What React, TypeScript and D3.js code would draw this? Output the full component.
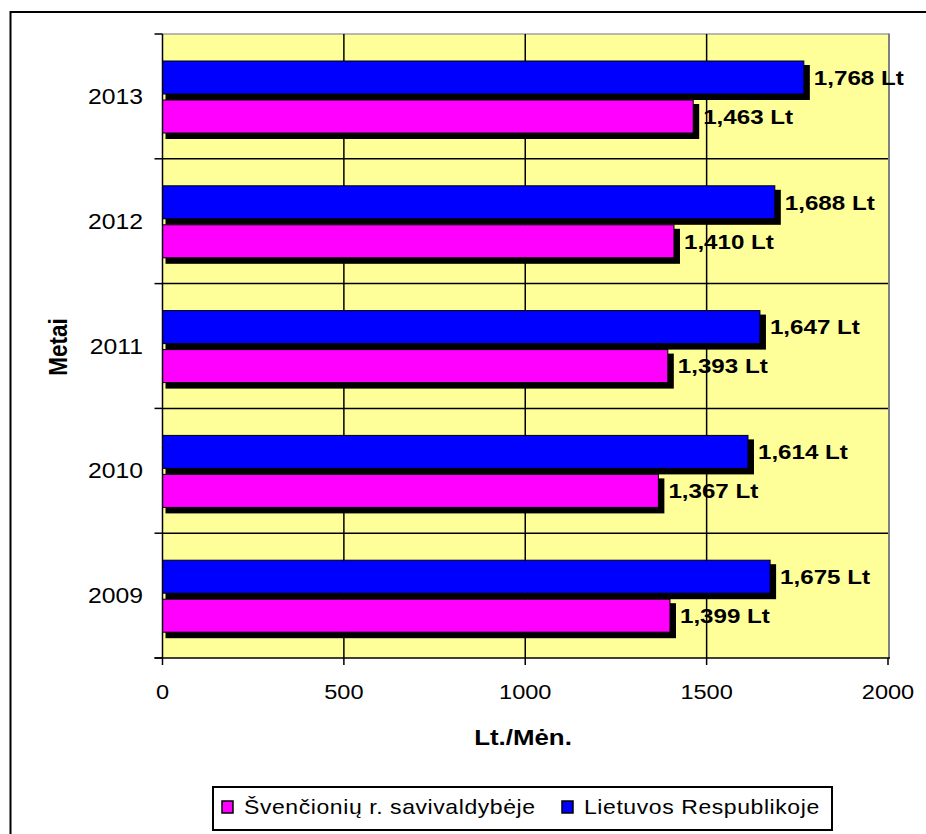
import React from "react";
import * as d3 from "d3";

const years = ["2009", "2010", "2011", "2012", "2013"];
const svenValues = [1399, 1367, 1393, 1410, 1463];
const ltValues = [1675, 1614, 1647, 1688, 1768];
const seriesNames = ["Švenčionių r. savivaldybėje", "Lietuvos Respublikoje"];
const seriesColors = ["#FF00FF", "#0000FF"];
const xTicks = [0, 500, 1000, 1500, 2000];
const xTitle = "Lt./Mėn.";
const yTitle = "Metai";

const W = 926;
const H = 834;
const plot = { left: 162.5, right: 888, top: 34, bottom: 658 };
const SX = 1.15;
const FONT = "'Liberation Sans', Arial, sans-serif";

function T(props: any) {
  const { x, y, rotate, size, bold, anchor, children, spacing } = props;
  const tf = `translate(${x},${y}) scale(${SX},1)` + (rotate ? ` rotate(${rotate})` : "");
  return (
    <text
      transform={tf}
      fontFamily={FONT}
      fontSize={size}
      fontWeight={bold ? "bold" : "normal"}
      textAnchor={anchor || "start"}
      dy="0.35em"
      letterSpacing={spacing || 0}
      fill="#000"
    >
      {children}
    </text>
  );
}

export default function App() {
  const x = d3.scaleLinear().domain([0, 2000]).range([plot.left, plot.right]);
  const yBand = d3
    .scaleBand<string>()
    .domain(years.slice().reverse())
    .range([plot.top, plot.bottom]);
  const fmt = d3.format(",");
  const bw = yBand.bandwidth();
  const boundaries = d3.range(years.length + 1).map((i) => plot.top + i * bw);

  const rows = years.map((yr, i) => {
    const y0 = (yBand(yr) as number) + 27;
    const inner = d3
      .scaleBand<string>()
      .domain(["lt", "sven"])
      .range([y0, y0 + 72])
      .paddingInner(6 / 39);
    return [
      { key: "lt", v: ltValues[i], color: seriesColors[1], y: inner("lt") as number, h: inner.bandwidth() },
      { key: "sven", v: svenValues[i], color: seriesColors[0], y: inner("sven") as number, h: inner.bandwidth() },
    ].map((b) => ({ ...b, yr }));
  });
  const bars = rows.flat();

  return (
    <svg width={W} height={H} style={{ position: "absolute", left: 0, top: 0, background: "#fff" }}>
      {/* outer border */}
      <rect x={10.5} y={12} width={1000} height={1000} fill="#fff" stroke="#000" strokeWidth={2} />

      {/* plot background */}
      <rect x={plot.left} y={plot.top} width={plot.right - plot.left} height={plot.bottom - plot.top} fill="#FFFF99" />
      <line x1={plot.left} x2={plot.right + 1} y1={plot.top} y2={plot.top} stroke="#A0A0A0" strokeWidth={1.5} />
      <line x1={plot.right + 1} x2={plot.right + 1} y1={plot.top - 0.5} y2={plot.bottom} stroke="#808080" strokeWidth={2} />

      {/* value labels (behind gridlines) */}
      {bars.map((b) => (
        <T key={"l" + b.yr + b.key} x={x(b.v) + 10} y={b.y + b.h / 2} size={21} bold>
          {fmt(b.v) + " Lt"}
        </T>
      ))}

      {/* gridlines */}
      {xTicks.slice(1, -1).map((t) => (
        <line key={"g" + t} x1={x(t)} x2={x(t)} y1={plot.top} y2={plot.bottom} stroke="#000" strokeWidth={1.5} />
      ))}
      {boundaries.slice(1, -1).map((yy, i) => (
        <line key={"h" + i} x1={plot.left} x2={plot.right} y1={yy} y2={yy} stroke="#000" strokeWidth={1.5} />
      ))}

      {/* shadows */}
      {bars.map((b) => (
        <rect
          key={"s" + b.yr + b.key}
          x={plot.left + 3}
          y={b.y + 4}
          width={x(b.v) - plot.left + 3}
          height={b.h + 2}
          fill="#000"
        />
      ))}
      {/* bars */}
      {bars.map((b) => (
        <rect
          key={"b" + b.yr + b.key}
          x={plot.left}
          y={b.y}
          width={x(b.v) - plot.left}
          height={b.h}
          fill={b.color}
          stroke="#000"
          strokeWidth={1}
        />
      ))}

      {/* axes */}
      <line x1={plot.left} x2={plot.left} y1={plot.top} y2={plot.bottom} stroke="#000" strokeWidth={1.5} />
      {boundaries.map((yy, i) => (
        <line key={"yt" + i} x1={plot.left - 8} x2={plot.left} y1={yy} y2={yy} stroke="#000" strokeWidth={1.5} />
      ))}
      <line x1={plot.left - 8} x2={plot.right + 2} y1={plot.bottom} y2={plot.bottom} stroke="#000" strokeWidth={1.5} />
      {xTicks.map((t) => (
        <g key={"xt" + t}>
          <line x1={x(t)} x2={x(t)} y1={plot.bottom} y2={plot.bottom + 7} stroke="#000" strokeWidth={1.5} />
          <T x={x(t)} y={692} size={20.5} anchor="middle">
            {String(t)}
          </T>
        </g>
      ))}
      {years.map((yr) => (
        <T key={"yl" + yr} x={143} y={(yBand(yr) as number) + bw / 2} size={21.5} anchor="end">
          {yr}
        </T>
      ))}

      {/* titles */}
      <T x={523} y={737} size={22.5} bold anchor="middle">
        {xTitle}
      </T>
      <T x={58} y={347} size={22.5} bold anchor="middle" rotate={-90}>
        {yTitle}
      </T>

      {/* legend */}
      <rect x={213} y={787} width={619} height={43} fill="#fff" stroke="#000" strokeWidth={2} />
      {[0, 1].map((i) => {
        const mx = i === 0 ? 222 : 562;
        return (
          <g key={"lg" + i}>
            <rect x={mx} y={801} width={11} height={12} fill={seriesColors[i]} stroke="#000" strokeWidth={1.5} />
            <T x={mx + 22} y={807} size={20} spacing={0.5}>
              {seriesNames[i]}
            </T>
          </g>
        );
      })}
    </svg>
  );
}
